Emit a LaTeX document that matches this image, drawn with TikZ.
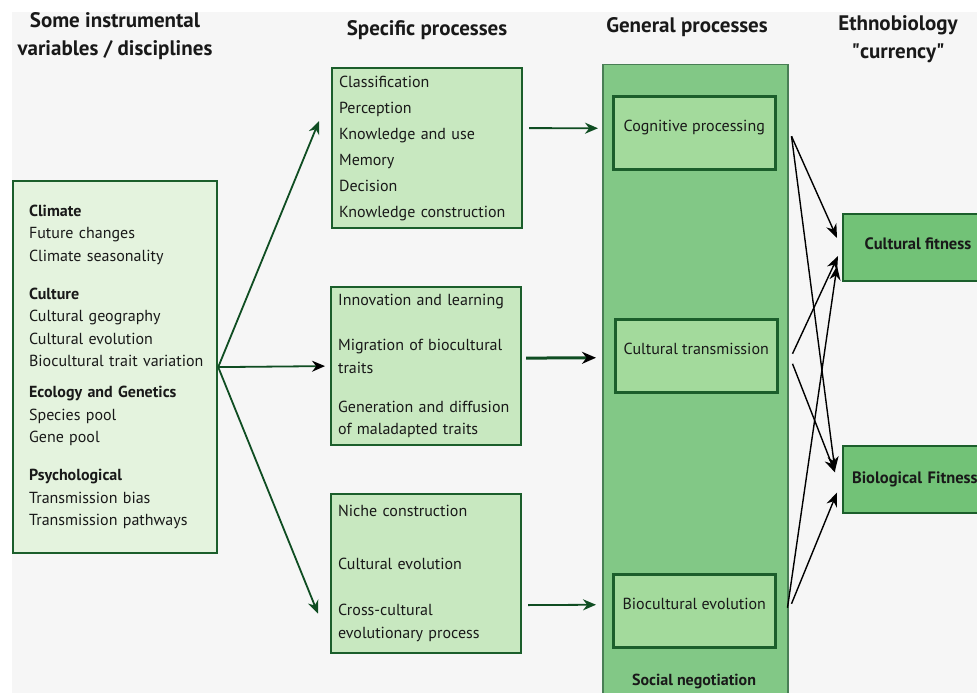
\documentclass[tikz,border=0pt]{standalone}
\usepackage{fontspec}
\setmainfont{PT Sans}
\usetikzlibrary{arrows.meta}
\definecolor{bggray}{HTML}{F6F6F6}
\definecolor{dkgreen}{HTML}{1B5E2B}
\definecolor{arrgreen}{HTML}{0F4D22}
\definecolor{palegreen}{HTML}{E4F3DE}
\definecolor{lightgreen}{HTML}{C8E8C0}
\definecolor{colgreen}{HTML}{82C886}
\definecolor{midgreen}{HTML}{A3DA9C}
\definecolor{fitgreen}{HTML}{72C277}
\tikzset{
  head/.style={font=\fontsize{21}{28}\selectfont\bfseries, align=center},
  varbox/.style={draw=dkgreen, line width=2.2pt, anchor=north west, align=left, inner ysep=0pt},
  procbox/.style={varbox, fill=lightgreen, minimum width=190pt, text width=176pt, inner xsep=7pt},
  genbox/.style={draw=dkgreen, line width=2.5pt, fill=midgreen, anchor=north west, minimum width=162pt, minimum height=73pt, text depth=14pt},
  fitbox/.style={draw=dkgreen, line width=2pt, fill=fitgreen, anchor=north west, minimum width=150pt, minimum height=67pt, font=\fontsize{16.5}{18}\selectfont\bfseries},
  grn/.style={draw=arrgreen, line width=1.8pt, -{Stealth[length=13pt,width=11pt]}},
  blk/.style={draw=black, line width=1.4pt, -{Stealth[length=14pt,width=11pt]}}
}
\begin{document}
\begin{tikzpicture}[x=1pt,y=-1pt, every node/.style={font=\fontsize{16}{22.5}\selectfont, text=black!90}]
\useasboundingbox (0,0) rectangle (977,693);
\clip (0,0) rectangle (977,693);
\fill[bggray] (12,12) rectangle (977,693);
\node[head] (h1) at (115,36) {Some instrumental\\variables / disciplines};
\node[head] (h2) at (427,30) {Specific processes};
\node[head] (h3) at (687,27) {General processes};
\node[head] (h4) at (898,39) {Ethnobiology\\\textquotedbl currency\textquotedbl};
\node[varbox, fill=palegreen, minimum width=204pt, minimum height=372pt, text width=172pt, inner xsep=16pt] (vars) at (12,180)
  {\textbf{Climate}\\Future changes\\Climate seasonality\\[15.5pt]
   \textbf{Culture}\\Cultural geography\\Cultural evolution\\\mbox{Biocultural trait variation}\\[8.5pt]
   \textbf{Ecology and Genetics}\\Species pool\\Gene pool\\[15.5pt]
   \textbf{Psychological}\\Transmission bias\\Transmission pathways};
\node[procbox, minimum height=160pt, font=\fontsize{16}{26}\selectfont] (top) at (331,67)
  {Classification\\Perception\\Knowledge and use\\Memory\\Decision\\Knowledge construction};
\node[procbox, minimum height=158pt] (mid) at (330,286)
  {Innovation and learning\\[22.5pt]Migration of biocultural\\traits\\[16.5pt]Generation and diffusion\\of maladapted traits};
\node[procbox, minimum height=159pt] (bot) at (330,493)
  {Niche construction\\[30.5pt]Cultural evolution\\[23.5pt]Cross-cultural\\evolutionary process};
\node[draw=dkgreen!80, line width=1.5pt, fill=colgreen, anchor=north west, minimum width=185pt, minimum height=700pt] (col) at (602,64) {};
\node[genbox] (cog) at (612,95) {Cognitive processing};
\node[genbox] (trans) at (614,318) {Cultural transmission};
\node[genbox] (bioc) at (612,573) {Biocultural evolution};
\node[font=\fontsize{16}{18}\selectfont\bfseries] (soc) at (694,681) {Social negotiation};
\node[fitbox, text depth=8pt] (cfit) at (842,213) {Cultural fitness};
\node[fitbox, align=left, text width=132pt, inner xsep=9pt] (bfit) at (842,445) {Biological Fitness};
\draw[grn] (vars.east) -- ([xshift=-12pt,yshift=27pt]top.west);
\draw[grn, -{Stealth[length=13pt,width=11pt,color=black]}] (vars.east) -- ([xshift=-5pt]mid.west);
\draw[grn] (vars.east) -- ([xshift=-12pt,yshift=-40pt]bot.west);
\draw[grn] ([xshift=6pt,yshift=20pt]top.east) -- ([xshift=-14pt,yshift=4.5pt]cog.west);
\draw[grn, line width=3pt, -{Stealth[length=14pt,width=12pt,color=black]}] ([xshift=4pt,yshift=8pt]mid.east) -- ([xshift=-18pt,yshift=-2pt]trans.west);
\draw[grn] ([xshift=6pt,yshift=-31.5pt]bot.east) -- ([xshift=-16pt,yshift=6pt]bioc.west);
\draw[blk] ([xshift=15pt,yshift=-3.5pt]cog.east) -- ([xshift=-5pt,yshift=9.5pt]cfit.west);
\draw[blk] ([xshift=15pt,yshift=-3.5pt]cog.east) -- ([xshift=-7pt,yshift=9pt]bfit.west);
\draw[blk] ([xshift=14pt,yshift=2pt]trans.east) -- ([xshift=-4pt,yshift=-8.5pt]cfit.west);
\draw[blk] ([xshift=14pt,yshift=-8pt]trans.east) -- ([xshift=-7pt,yshift=7pt]bfit.west);
\draw[blk] ([xshift=11pt,yshift=3pt]bioc.east) -- ([xshift=-5pt,yshift=-18.5pt]cfit.west);
\draw[blk] ([xshift=15pt,yshift=7pt]bioc.east) -- ([xshift=-5pt,yshift=-13pt]bfit.west);
\end{tikzpicture}
\end{document}
